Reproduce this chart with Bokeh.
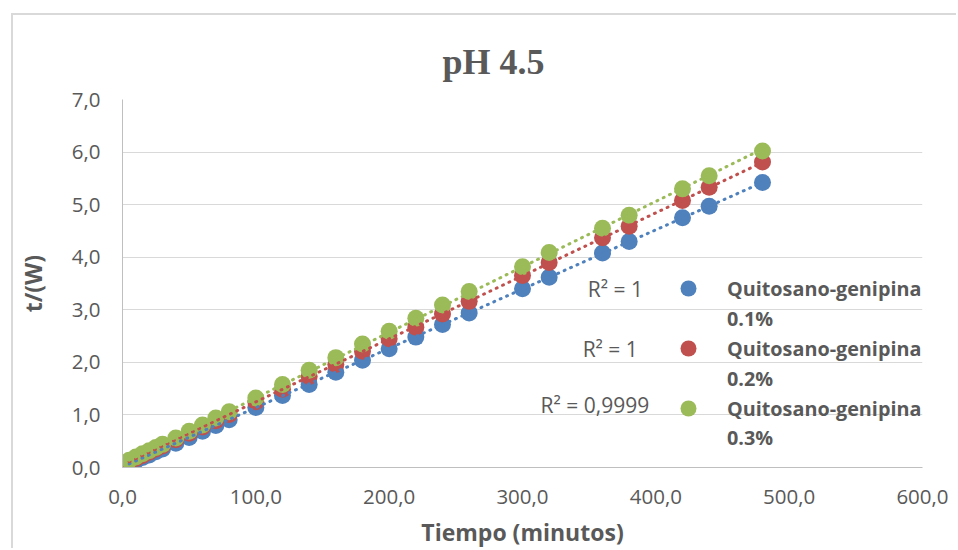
import numpy as np
from bokeh.plotting import figure
from bokeh.models import (Range1d, Label, Legend, LegendItem,
                          CustomJSTickFormatter, FixedTicker)
from bokeh.embed import file_html
from bokeh.resources import INLINE

# ---------------- data ----------------
tiempo = [5, 10, 15, 20, 25, 30, 40, 50, 60, 70, 80, 100, 120, 140, 160, 180,
          200, 220, 240, 260, 300, 320, 360, 380, 420, 440, 480]
qg_01 = [0.08, 0.13, 0.19, 0.24, 0.30, 0.35, 0.46, 0.57, 0.69, 0.80, 0.91, 1.14,
         1.37, 1.58, 1.81, 2.04, 2.26, 2.48, 2.72, 2.94, 3.40, 3.62, 4.08, 4.30,
         4.75, 4.97, 5.42]
qg_02 = [0.11, 0.17, 0.23, 0.29, 0.35, 0.41, 0.53, 0.65, 0.77, 0.89, 1.01, 1.25,
         1.49, 1.73, 1.96, 2.21, 2.45, 2.67, 2.92, 3.16, 3.65, 3.90, 4.37, 4.59,
         5.08, 5.33, 5.81]
qg_03 = [0.14, 0.20, 0.26, 0.32, 0.38, 0.44, 0.56, 0.69, 0.81, 0.94, 1.06, 1.32,
         1.58, 1.85, 2.09, 2.35, 2.59, 2.84, 3.09, 3.35, 3.82, 4.09, 4.55, 4.80,
         5.30, 5.55, 6.02]
series_name = "Quitosano-genipina"
series_conc = ["0.1%", "0.2%", "0.3%"]
r2_labels = ["R² = 1", "R² = 1", "R² = 0,9999"]
y_ticks = [0, 1, 2, 3, 4, 5, 6, 7]
x_ticks = [0, 100, 200, 300, 400, 500, 600]

colors = ["#4f81bd", "#c0504d", "#9bbb59"]
TXT = "#595959"
FONT = "Open Sans"

p = figure(width=945, height=535, output_backend="svg", toolbar_location=None,
           x_range=Range1d(0, 600), y_range=Range1d(0, 7),
           min_border_left=107, min_border_right=36,
           min_border_top=84, min_border_bottom=80)
p.margin = (13, 0, 0, 11)
p.styles = {"border-left": "2px solid #d9d9d9", "border-top": "2px solid #d9d9d9"}
p.outline_line_color = None
p.background_fill_color = "white"
p.border_fill_color = "white"

# title
p.title.text = "pH 4.5"
p.title.align = "left"
p.title.offset = 320
p.title.standoff = 35
p.title.text_font = "Liberation Serif"
p.title.text_font_size = "36px"
p.title.text_font_style = "bold"
p.title.text_color = TXT

# axes
fmt = CustomJSTickFormatter(code="return tick.toFixed(1).replace('.', ',');")
for ax in (p.xaxis[0], p.yaxis[0]):
    ax.formatter = fmt
    ax.axis_line_color = "#bfbfbf"
    ax.axis_line_width = 1
    ax.major_tick_line_color = None
    ax.minor_tick_line_color = None
    ax.major_label_text_font = FONT
    ax.major_label_text_font_size = "20.5px"
    ax.major_label_text_color = TXT
    ax.axis_label_text_font = FONT
    ax.axis_label_text_font_size = "23px"
    ax.axis_label_text_font_style = "bold"
    ax.axis_label_text_color = TXT
p.xaxis.ticker = FixedTicker(ticks=x_ticks)
p.yaxis.ticker = FixedTicker(ticks=y_ticks)
p.xaxis.axis_label = "Tiempo (minutos)"
p.yaxis.axis_label = "t/(W)"
p.xaxis.major_label_standoff = 16
p.yaxis.major_label_standoff = 16
p.xaxis.axis_label_standoff = 9
p.yaxis.axis_label_standoff = 20

p.xgrid.visible = False
p.ygrid.grid_line_color = "#d9d9d9"
p.ygrid.grid_line_width = 1

# markers
all_series = [qg_01, qg_02, qg_03]
renderers = []
for ys, c in zip(all_series, colors):
    r = p.scatter(tiempo, ys, size=17, fill_color=c, line_color=None)
    renderers.append(r)

# linear trendlines
tx = np.array([min(tiempo), max(tiempo)], dtype=float)
for ys, c in zip(all_series, colors):
    m, b = np.polyfit(np.array(tiempo, float), np.array(ys, float), 1)
    p.line(tx, m * tx + b, line_color=c, line_width=3, line_dash="1 6",
           line_cap="round")

# R² labels (trendline labels)
r2_pos = [(390.3, 3.40), (386.5, 2.26), (395.0, 1.19)]
for (x, y), t in zip(r2_pos, r2_labels):
    p.add_layout(Label(x=x, y=y, text=t, text_font=FONT, text_font_size="21px",
                       text_color=TXT, text_align="right", text_baseline="middle"))

# legend
legend = Legend(items=[LegendItem(label=series_name, renderers=[r])
                       for r in renderers],
                location=(546, 39), orientation="vertical")
legend.padding = 0
legend.margin = 0
legend.spacing = 20
legend.border_line_alpha = 0
legend.background_fill_alpha = 0
legend.glyph_width = 40
legend.glyph_height = 40
legend.label_standoff = 19
legend.label_text_font = FONT
legend.label_text_font_size = "19.8px"
legend.label_text_font_style = "bold"
legend.label_text_color = TXT
p.add_layout(legend)

# second line of the legend labels
conc_y = [2.83, 1.70, 0.566]
for y, t in zip(conc_y, series_conc):
    p.add_layout(Label(x=453.4, y=y, text=t, text_font=FONT, text_font_size="19.8px",
                       text_font_style="bold", text_color=TXT,
                       text_align="left", text_baseline="middle"))

open("out.html", "w").write(file_html(p, INLINE))
